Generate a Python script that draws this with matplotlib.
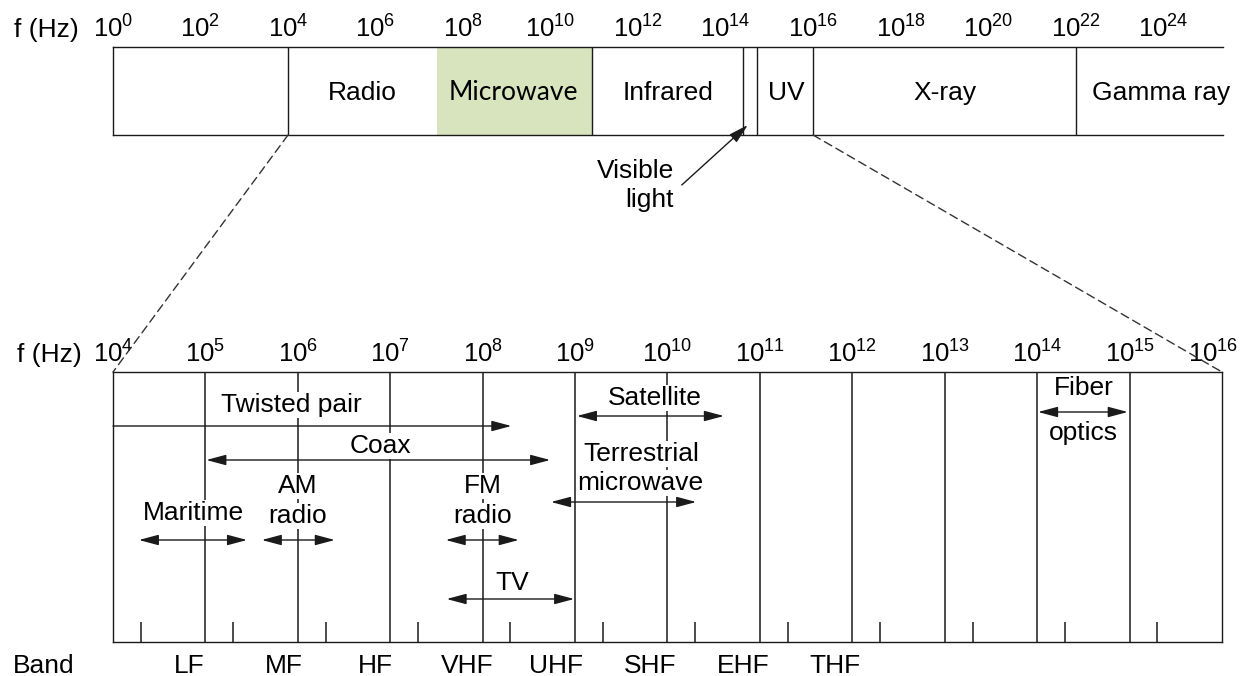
import matplotlib
matplotlib.use('Agg')
import matplotlib.pyplot as plt
from matplotlib.patches import ConnectionPatch
from matplotlib.ticker import NullLocator
from matplotlib.transforms import ScaledTranslation

plt.rcParams['font.family'] = ['Liberation Sans', 'DejaVu Sans']
plt.rcParams['mathtext.default'] = 'regular'

# ---- data (frequencies as powers of ten, Hz) ----
top_ticks = [0, 2, 4, 6, 8, 10, 12, 14, 16, 18, 20, 22, 24]
top_edges = [4, 10.94, 14.41, 14.72, 16, 22]      # region boundaries
microwave_lo, microwave_hi = 7.41, 10.94
top_names = ['Radio', 'Microwave', 'Infrared', 'UV', 'X-ray', 'Gamma ray']
top_name_pos = [5.69, 9.15, 12.69, 15.38, 19.02, 23.95]
visible_at = 14.51

bot_ticks = [4, 5, 6, 7, 8, 9, 10, 11, 12, 13, 14, 15, 16]
band_ticks = [2e4, 2e5, 2e6, 2e7, 2e8, 2e9, 2e10, 2e11, 2e12, 2e13, 2e14, 2e15]
bands = ['LF', 'MF', 'HF', 'VHF', 'UHF', 'SHF', 'EHF', 'THF']
band_pos = [4.82, 5.85, 6.84, 7.83, 8.79, 9.81, 10.82, 11.81]

media = ['Twisted pair', 'Coax', 'Satellite', 'Terrestrial microwave',
         'Maritime', 'AM radio', 'FM radio', 'TV', 'Fiber optics']
media_lo = [4.0, 5.01, 9.02, 8.74, 4.28, 5.61, 7.60, 7.61, 14.01]
media_hi = [8.31, 8.73, 10.61, 10.31, 5.45, 6.40, 8.39, 8.99, 14.98]

# ---- layout (rows in px below the top of the lower box) ----
arrow_rows = [54, 88, 44, 130, 168, 168, 168, 227, 40]
arrow_styles = ['-|>'] + ['<|-|>'] * 8
label_lines = [('Twisted pair', 5.93, 40), ('Coax', 6.89, 81),
               ('Satellite', 9.86, 33), ('Terrestrial', 9.72, 89),
               ('microwave', 9.71, 118), ('Maritime', 4.87, 148),
               ('AM', 6.0, 121), ('radio', 6.0, 151),
               ('FM', 8.0, 121), ('radio', 8.0, 151), ('TV', 8.32, 218),
               ('Fiber', 14.5, 23), ('optics', 14.5, 68)]

W, H = 1242, 676
FS = 19
LC = '#1a1a1a'


def px_box(l, t, r, b):
    return [l / W, 1 - b / H, (r - l) / W, (b - t) / H]


fig = plt.figure(figsize=(W / 100, H / 100), dpi=100)

# top: the full spectrum
ax1 = fig.add_axes(px_box(113, 47, 1223, 135))
ax1.set_xscale('log')
ax1.set_xlim(1, 10 ** 25.37)
ax1.set_ylim(0, 1)
ax1.xaxis.tick_top()
ax1.set_xticks([10.0 ** e for e in top_ticks])
ax1.set_xticklabels([r'$10^{%d}$' % e for e in top_ticks])
ax1.xaxis.set_minor_locator(NullLocator())
ax1.tick_params(axis='x', length=0, pad=3, labelsize=18.5)
ax1.set_yticks([])
ax1.spines['right'].set_visible(False)
for s in ax1.spines.values():
    s.set_linewidth(1.0)
    s.set_color(LC)

ax1.axvspan(10 ** microwave_lo, 10 ** microwave_hi, color='#d7e4bd', lw=0, zorder=0)
for e in top_edges:
    ax1.axvline(10 ** e, color=LC, lw=1.0)
for name, p in zip(top_names, top_name_pos):
    fam = ['Lato', 'DejaVu Sans'] if name == 'Microwave' else None
    ax1.text(10 ** p, 0.40, name, ha='center', va='baseline', fontsize=FS, family=fam)

ax1.annotate('', xy=(10 ** visible_at, 0.114), xytext=(10 ** 13.0, -0.568),
             annotation_clip=False,
             arrowprops=dict(arrowstyle='-|>,head_length=1.2,head_width=0.32',
                             mutation_scale=10, lw=1.0, color=LC,
                             shrinkA=0, shrinkB=0))
ax1.text(10 ** 12.82, -0.489, 'Visible', ha='right', va='baseline', fontsize=FS)
ax1.text(10 ** 12.82, -0.818, 'light', ha='right', va='baseline', fontsize=FS)

fig.text(14 / W, 1 - 37 / H, 'f (Hz)', va='baseline', fontsize=FS)

# bottom: 10^4 .. 10^16 zoom
ax2 = fig.add_axes(px_box(113, 372, 1222, 642))
ax2.set_xscale('log')
ax2.set_xlim(1e4, 1e16)
ax2.set_ylim(270, 0)
ax2.xaxis.tick_top()
ax2.set_xticks([10.0 ** e for e in bot_ticks])
ax2.set_xticklabels([r'$10^{%d}$' % e for e in bot_ticks])
ax2.xaxis.set_minor_locator(NullLocator())
ax2.tick_params(axis='x', length=0, pad=3, labelsize=18.5)
ax2.set_yticks([])
for s in ax2.spines.values():
    s.set_linewidth(1.0)
    s.set_color(LC)
# last label sits a little inside the figure, as in the original
last = ax2.get_xticklabels()[-1]
last.set_transform(last.get_transform() + ScaledTranslation(-0.09, 0, fig.dpi_scale_trans))

for e in bot_ticks[1:-1]:
    ax2.axvline(10.0 ** e, color=LC, lw=1.1, zorder=1)
ax2.vlines(band_ticks, 250, 270, color=LC, lw=1.1, zorder=1)

for lo, hi, row, st in zip(media_lo, media_hi, arrow_rows, arrow_styles):
    ax2.annotate('', xy=(10 ** hi, row), xytext=(10 ** lo, row), zorder=4,
                 arrowprops=dict(arrowstyle=st + ',head_length=1.2,head_width=0.32',
                                 mutation_scale=10, lw=1.0, color=LC,
                                 shrinkA=0, shrinkB=0))

for s, p, row in label_lines:
    ax2.text(10 ** p, row, s, ha='center', va='baseline', fontsize=FS, zorder=3,
             bbox=dict(boxstyle='square,pad=0.05', fc='white', ec='none'))

for b, p in zip(bands, band_pos):
    ax2.text(10 ** p, 301, b, ha='center', va='baseline', fontsize=FS)
fig.text(13 / W, 1 - 673 / H, 'Band', va='baseline', fontsize=FS)
fig.text(17 / W, 1 - 362 / H, 'f (Hz)', va='baseline', fontsize=FS)

# dashed zoom guides
for f in [1e4, 1e16]:
    con = ConnectionPatch(xyA=(f, 0), coordsA=ax1.transData,
                          xyB=(f, 0), coordsB=ax2.transData,
                          linestyle=(0, (6, 3.5)), lw=1.0, color='#333333')
    fig.add_artist(con)

fig.savefig('out.png', dpi=100)
